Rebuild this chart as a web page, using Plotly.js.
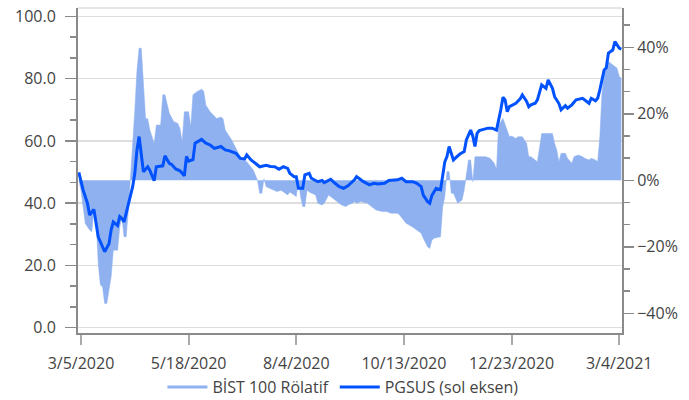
<!DOCTYPE html>
<html><head><meta charset="utf-8">
<script src="https://cdn.plot.ly/plotly-3.0.1.min.js"></script>
<style>html,body{margin:0;padding:0;background:#fff}#chart{width:689px;height:400px}</style>
</head><body><div id="chart"></div>
<script>
// Trading-day index (0 = first session shown) and tick labels
const tickDays = [1, 51, 101, 151, 201, 251];
const tickLabels = ['3/5/2020', '5/18/2020', '8/4/2020', '10/13/2020', '12/23/2020', '3/4/2021'];

// PGSUS price (left axis)
const pgsusDay = [0,2,4,5,7,8,9,11,12,14,15,16,18,19,20,21,22,24,25,26,27,28,29,30,32,33,35,36,39,40,42,43,45,47,49,50,51,53,54,57,59,61,63,66,68,70,73,75,77,78,80,83,84,87,89,91,93,95,97,98,100,101,102,104,105,107,108,111,113,114,117,119,121,123,125,128,129,131,132,135,137,139,142,144,146,148,150,152,155,157,159,160,162,163,164,165,166,168,169,170,171,172,173,174,176,177,179,180,182,183,184,185,186,190,192,194,196,197,198,199,200,202,203,205,206,208,209,210,212,213,215,217,218,220,221,223,224,226,227,229,231,234,235,237,238,240,241,242,244,245,246,248,249,251,252];
const pgsusValue = [49.9,44.2,40,36.2,38,33.6,29.2,26,24.4,27,31.4,34,32.8,35.7,35.1,34,36.8,42.1,45.3,49.6,57.1,61.4,56.1,50.1,51.7,50.5,47.2,51.7,52,55.2,52.8,52.5,51,50.4,48.8,55,53.5,54,59.3,60.5,59.3,58.7,57.6,58.2,57.1,56.8,56,54.4,54.2,55.5,53.9,52.3,51.7,52.2,51.8,51.7,50.9,51.7,51.2,49.6,48.5,48.5,44.8,44.8,49.1,49.6,48,46.9,47.3,46.6,47.7,46.4,45.3,44.8,45.6,47.5,48.5,47.5,47,45.9,46.4,46.2,46.4,47.3,47.3,47.5,48,46.9,46.9,46.4,45.3,42.6,40.5,40,42.5,43.7,44.8,44.3,48.5,53.3,55,58.2,56,53.9,55.2,55.8,56.6,60.3,63.5,61.5,58.2,62.5,63.3,64.1,64.1,63.5,70,74,73.2,69.4,71,71.6,72.1,73.5,74.8,72.7,71,71.6,72.1,73.2,78,76.9,79.6,76.9,74.2,72,70,71.3,70.5,71.6,73.2,73.7,73.2,72.1,73.7,72.9,73.7,76.4,82.8,83.5,88.2,89.2,91.9,89.8,89.5];

// BIST 100 relative performance, % (right axis)
const bistDay = [0,1,2,3,5,6,7,8,9,10,11,12,13,15,16,18,19,20,21,22,23,24,25,26,27,28,29,30,31,32,33,35,36,38,39,40,42,44,46,47,48,49,51,52,53,55,57,58,59,61,64,66,67,68,71,73,75,78,81,83,84,85,86,87,90,92,94,97,98,100,101,102,103,104,105,106,107,110,111,113,114,116,118,120,122,124,125,127,128,129,131,134,136,138,141,143,145,148,149,151,152,155,157,159,160,162,163,164,165,167,168,169,170,171,172,173,174,175,176,178,179,181,182,183,184,186,189,191,193,194,195,197,198,200,201,203,204,206,208,209,210,212,213,215,216,218,220,221,222,223,224,226,227,229,230,232,234,235,237,238,240,241,242,243,244,246,248,250,251,252];
const bistRelative = [0,-3,-8,-13,-14.9,-15.5,-8.9,-11.5,-25,-31.5,-32,-37,-37,-29,-21,-21,-14,-11,-17,-17,-9,0,9.1,21,33,39.7,39.7,27.7,18.6,18.5,15.1,11.1,16.6,16.6,25.7,25.7,20.2,17.7,17.1,15.5,11.6,20.6,20.6,16.1,25.7,26.7,27.4,26.8,22.6,20.6,18.6,19,18.5,15.1,12.1,9.6,7.1,5.6,3.1,0,-3.9,-3.9,0.5,-1.9,-2.9,-3.4,-3,-4.4,-3.5,-4.4,-4.9,0,-4.9,-7.9,-7.9,-2.9,-3.5,-4.4,-6.9,-7.4,-6.9,-4.4,-5.4,-6.4,-7.4,-7.9,-7.4,-6.9,-6.4,-6.9,-6.4,-6.9,-7.9,-8.9,-9.4,-9.4,-9.9,-9.9,-10.4,-11.9,-12.9,-14,-15,-15.9,-17.4,-20,-20.5,-18,-17.4,-17,-17,-8,-4.9,2.6,2.6,-3.9,-3.9,-5.4,-6.9,-5.9,-2.9,6.1,6.1,-0.4,7.1,7.1,7.1,6.6,5.1,3.3,16.6,18.6,16.6,13.1,13.3,12.6,13.1,13.1,11.1,7.1,7.1,6.1,5.6,14.1,14.1,14.3,14.1,11.1,9.1,5.6,8.1,8.1,6.6,5.1,7.1,7.6,7.1,6.6,6.1,6.6,6.1,5.6,13.1,26.2,32.2,35.7,34.7,33.7,31.2,30.7];

const areaColor = '#8fb1ef';
const lineColor = '#0052ff';
const axisGray = '#8a8a8a';
const textColor = '#444444';
const fontFamily = '"Open Sans", "Noto Sans", sans-serif';

const traces = [
  {x: bistDay, y: bistRelative, yaxis: 'y', type: 'scatter', mode: 'lines',
   fill: 'tozeroy', fillcolor: areaColor, line: {color: areaColor, width: 0.5},
   name: 'BİST 100 Rölatif', showlegend: false, legendgroup: 'b', hoverinfo: 'skip'},
  {x: [null], y: [null], yaxis: 'y', type: 'scatter', mode: 'lines',
   line: {color: areaColor, width: 3}, name: 'BİST 100 Rölatif', legendgroup: 'b'},
  {x: pgsusDay, y: pgsusValue, yaxis: 'y2', type: 'scatter', mode: 'lines',
   line: {color: lineColor, width: 3}, name: 'PGSUS (sol eksen)'}
];

const layout = {
  width: 689, height: 400,
  margin: {l: 78, r: 67, t: 8, b: 67, autoexpand: false},
  paper_bgcolor: '#ffffff', plot_bgcolor: '#ffffff',
  font: {family: fontFamily, size: 16, color: textColor},
  showlegend: true,
  legend: {orientation: 'h', x: 0.487, xanchor: 'center', yref: 'container', y: 0.032, yanchor: 'middle',
           font: {size: 16, color: textColor}, itemwidth: 40},
  xaxis: {range: [-0.39, 252.3], tickmode: 'array', tickvals: tickDays, ticktext: tickLabels,
          showgrid: false, zeroline: false, showline: true, linecolor: axisGray, linewidth: 2,
          ticks: 'outside', ticklen: 10, tickwidth: 2, tickcolor: '#aaaaaa', ticklabelstandoff: 5},
  yaxis: {side: 'right', range: [-45.9, 51.8], dtick: 20, tick0: 0, ticksuffix: '%',
          showgrid: false, zeroline: false, showline: true, linecolor: axisGray, linewidth: 2,
          ticks: 'outside', ticklen: 10, tickwidth: 1.5, tickcolor: axisGray,
          minor: {dtick: 20/3, tick0: 0, ticks: 'outside', ticklen: 6, tickcolor: axisGray, tickwidth: 1.5, showgrid: false}},
  yaxis2: {overlaying: 'y', side: 'left', range: [-1.7, 102.7], dtick: 20, tick0: 0, tickformat: '.1f',
           showgrid: true, gridcolor: '#dedede', gridwidth: 1.5, zeroline: false,
           showline: true, linecolor: axisGray, linewidth: 2,
           ticks: 'outside', ticklen: 11, tickwidth: 1.5, tickcolor: axisGray, ticklabelstandoff: 6,
           minor: {dtick: 20/3, tick0: 0, ticks: 'outside', ticklen: 6, tickcolor: axisGray, tickwidth: 1.5, showgrid: false}},
  shapes: [{type: 'line', xref: 'paper', yref: 'paper', x0: 0, x1: 1, y0: 1, y1: 1, layer: 'below',
            line: {color: '#dedede', width: 1.5}}]
};

Plotly.newPlot('chart', traces, layout, {displayModeBar: false, staticPlot: true});
</script>
</body></html>
